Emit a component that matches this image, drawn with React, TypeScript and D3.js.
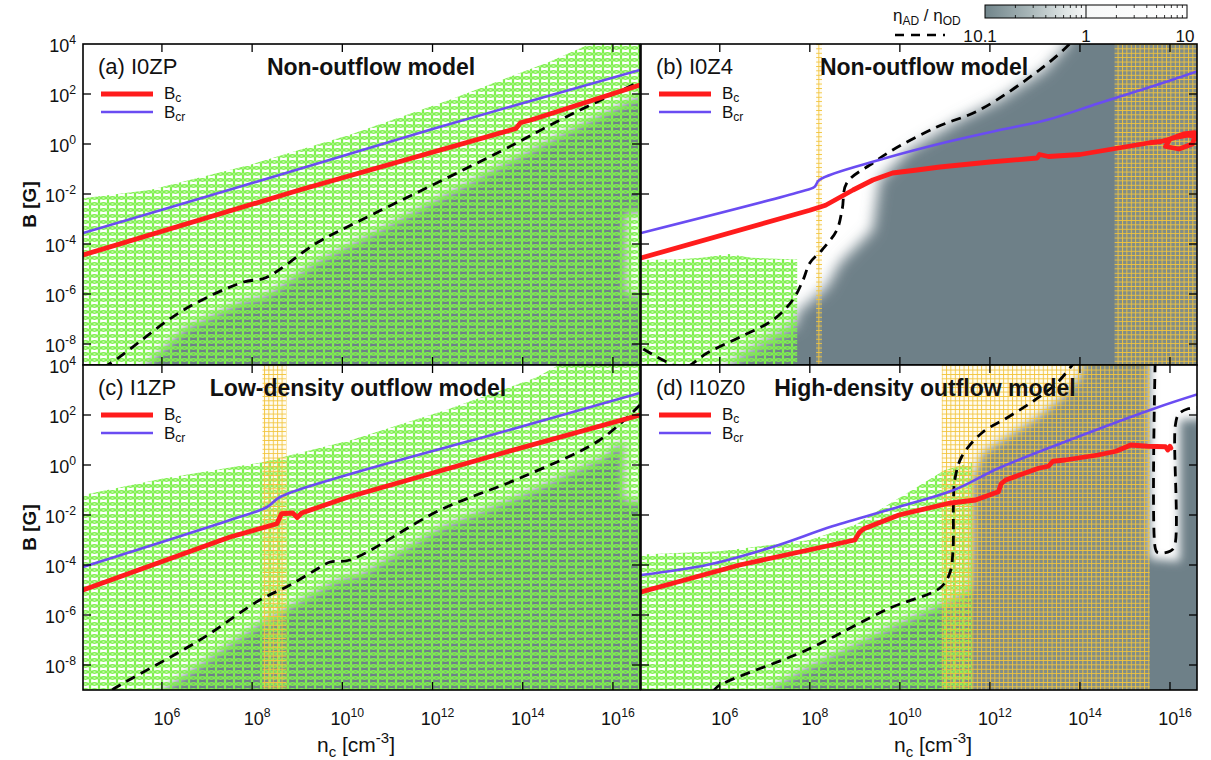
import React from "react";
import * as d3 from "d3";

type P = [number, number];

// ---- axes (log10 values) ----
const X_LOG_DOMAIN: P = [4.25, 16.6];
const Y_LOG_DOMAIN_TOP: P = [-8.84, 4];
const Y_LOG_DOMAIN_BOTTOM: P = [-9, 4];
const X_TICK_EXP = [6, 8, 10, 12, 14, 16];
const Y_TICK_EXP = [-8, -6, -4, -2, 0, 2, 4];
const CBAR_TICKS = [0.1, 1, 10];
const CBAR_MINOR = [0.2, 0.3, 0.4, 0.5, 0.6, 0.7, 0.8, 0.9, 2, 3, 4, 5, 6, 7, 8, 9];

// ---- (a) I0ZP ----
const aBcr: P[] = [[4.25, -3.56], [8, -1.56], [12, 0.6], [16.6, 2.96]];
const aBc: P[] = [[4.25, -4.44], [9.05, -1.84], [13.85, 0.62], [13.95, 0.85], [14.2, 0.97], [16.6, 2.36]];
const aDash: P[] = [[4.7, -8.95], [5.0, -8.6], [6.48, -6.64], [7.81, -5.52], [8.3, -5.35], [9.43, -3.96], [10.42, -3.04], [13.48, -0.32], [14.96, 1.08], [16.6, 2.5]];
const aGray: P[] = [[5.1, -9.8], [6.5, -7.4], [7.8, -6.3], [8.3, -6.1], [9.45, -4.7], [10.45, -3.8], [13.5, -0.9], [15.0, 0.5], [16.6, 1.9], [17.5, 1.9], [17.5, -10.5], [5.1, -10.5]];
const aLight: P[] = [[16.3, -2.8], [17.2, -2.8], [17.2, -6.0], [16.3, -6.0]];
const aGreen: P[] = [[4.0, -2.2], [4.3, -2.16], [5.73, -1.84], [7.94, -0.84], [10.15, 0.36], [12.37, 1.76], [14.58, 3.28], [15.69, 4.16], [15.7, 5], [17.5, 5], [17.5, -10.5], [4.0, -10.5]];

// ---- (b) I0Z4 ----
const bBcr: P[] = [[4.25, -3.56], [7.77, -1.92], [8.1, -1.72], [8.21, -1.44], [9.54, -0.64], [11.09, 0.1], [12.19, 0.55], [13.3, 0.98], [14.4, 1.62], [15.51, 2.25], [16.6, 2.9]];
const bBc: P[] = [[4.25, -4.56], [8.0, -2.65], [8.35, -2.45], [8.6, -2.2], [8.96, -1.84], [9.4, -1.44], [9.84, -1.16], [10.38, -1.04], [10.89, -0.92], [12.0, -0.72], [13.05, -0.56], [13.1, -0.42], [13.3, -0.5], [14.0, -0.42], [15.55, 0.05], [15.8, 0.1], [16.1, 0.25], [16.4, 0.35], [16.55, 0.3], [16.5, 0.0], [16.2, -0.2], [15.9, -0.1], [16.0, 0.2], [16.3, 0.4], [16.55, 0.45], [16.6, 0.2]];
const bDash: P[] = [[4.3, -8.2], [4.8, -8.7], [5.2, -8.95], [5.72, -8.36], [6.45, -7.72], [7.18, -7.04], [7.62, -6.24], [7.85, -5.44], [8.0, -4.76], [8.27, -4.24], [8.6, -3.44], [8.72, -2.6], [8.82, -1.56], [9.4, -0.76], [9.84, -0.24], [10.82, 0.68], [11.77, 1.36], [13.1, 2.96], [13.77, 4.0], [13.9, 4.3]];
const bGray: P[] = [[5.7, -9.8], [6.45, -8.5], [7.18, -7.7], [7.71, -7.2], [7.71, -6.76], [8.38, -5.72], [8.67, -4.76], [9.4, -3.44], [9.55, -1.44], [10.22, -0.24], [11.33, 0.96], [12.22, 1.76], [13.22, 2.96], [13.73, 4.0], [13.9, 5], [17.5, 5], [17.5, -10.5], [5.7, -10.5]];
const bGreen: P[] = [[4.0, -4.65], [5.0, -4.62], [5.6, -4.55], [6.2, -4.4], [6.7, -4.55], [7.72, -4.62], [7.72, -10.5], [4.0, -10.5]];
const bYellow: P[] = [[8.14, 8.27], [14.77, 17]];

// ---- (c) I1ZP ----
const cBcr: P[] = [[4.25, -4.08], [7.51, -2.2], [8.33, -1.68], [8.62, -1.28], [10.1, -0.4], [13.5, 1.3], [16.6, 2.88]];
const cBc: P[] = [[4.25, -5.0], [7.51, -2.88], [8.55, -2.35], [8.65, -1.95], [8.9, -1.92], [9.0, -2.1], [9.1, -1.92], [10.1, -1.3], [13.5, 0.45], [16.6, 2.0]];
const cDash: P[] = [[4.9, -9.0], [4.96, -8.92], [6.84, -7.0], [8.17, -5.4], [8.84, -4.8], [9.5, -4.1], [9.73, -3.88], [10.17, -3.8], [12.17, -1.8], [13.94, -0.52], [15.71, 1.0], [16.6, 2.4]];
const cGray: P[] = [[5.4, -9.8], [7.0, -7.8], [8.3, -6.2], [9.0, -5.5], [9.9, -4.6], [10.4, -4.4], [12.2, -2.5], [14.0, -1.2], [15.8, 0.3], [16.6, 1.6], [17.5, 1.6], [17.5, -10.5], [5.4, -10.5]];
const cLight: P[] = [[16.25, 1.6], [17.2, 1.6], [17.2, -1.4], [16.25, -1.4]];
const cGreen: P[] = [[4.0, -1.25], [4.25, -1.2], [6, -0.55], [8.2, 0.1], [10.2, 1.0], [12.3, 2.2], [14.3, 3.5], [14.8, 4.0], [14.9, 5], [17.5, 5], [17.5, -10.5], [4.0, -10.5]];
const cYellow: P[] = [[8.23, 8.76]];

// ---- (d) I10Z0 ----
const dBcr: P[] = [[4.25, -4.4], [5.71, -4.0], [7.17, -3.28], [8.5, -2.45], [9.98, -1.67], [11.2, -1.0], [12.19, -0.13], [13.67, 0.93], [15.67, 2.27], [16.6, 2.82]];
const dBc: P[] = [[4.25, -5.08], [6.44, -4.0], [9.0, -3.0], [9.1, -2.7], [9.2, -2.55], [9.98, -2.0], [11.09, -1.53], [11.68, -1.4], [12.19, -1.07], [12.25, -0.75], [12.35, -0.6], [13.08, -0.13], [13.3, -0.05], [13.4, 0.15], [13.67, 0.2], [14.4, 0.4], [14.8, 0.55], [15.13, 0.8], [15.5, 0.75], [15.9, 0.73], [15.95, 0.6], [16.0, 0.75], [16.02, 0.68]];
const dDash1: P[] = [[5.85, -9.1], [5.94, -8.88], [7.93, -7.4], [9.78, -5.72], [10.89, -4.92], [11.11, -4.32], [11.18, -3.4], [11.19, -1.5], [11.22, -0.6], [11.37, 0.32], [11.82, 1.28], [12.41, 1.92], [13.0, 2.6], [13.5, 3.3], [13.85, 4.05]];
const dDash2: P[] = [[15.67, 4.1], [15.67, -3.3], [15.72, -3.5], [16.0, -3.45], [16.1, -3.25], [16.12, 1.6], [16.2, 2.05], [16.4, 2.25], [16.6, 2.3]];
const dGray: P[] = [[6.3, -9.8], [7.95, -8.1], [9.8, -6.5], [10.9, -5.6], [11.55, -5.0], [11.6, -3.2], [11.6, -0.6], [11.85, 0.5], [12.45, 1.2], [13.05, 1.9], [13.6, 2.7], [14.0, 3.5], [14.2, 5], [15.55, 5], [15.55, -3.75], [16.22, -3.85], [16.22, 1.8], [17.5, 1.9], [17.5, -10.5], [6.3, -10.5]];
const dGreen: P[] = [[4.0, -3.6], [6, -3.45], [8, -3.0], [9, -2.4], [10, -1.3], [11, -0.2], [11.6, 0.1], [11.6, -10.5], [4.0, -10.5]];
const dYellow: P[] = [[10.93, 15.55]];

const COLS: P[] = [[83, 640], [641, 1197]];
const ROWS: P[] = [[365, 44], [690, 365]];

const GRAY = "#6e8088";
const RED = "#ff1c1c";
const BLUE = "#6a4cf2";
const GREEN = "#7ff04e";
const FONT = "'Liberation Sans', Arial, Helvetica, sans-serif";

const panels = [
  { id: "a", col: 0, row: 0, label: "(a) I0ZP", title: "Non-outflow model", titleX: 371, bcr: aBcr, bc: aBc, dashed: [aDash], gray: aGray, light: [aLight], green: aGreen, yellow: [] as P[], blur: 5 },
  { id: "b", col: 1, row: 0, label: "(b) I0Z4", title: "Non-outflow model", titleX: 924, bcr: bBcr, bc: bBc, dashed: [bDash], gray: bGray, light: [] as P[][], green: bGreen, yellow: bYellow, blur: 7 },
  { id: "c", col: 0, row: 1, label: "(c) I1ZP", title: "Low-density outflow model", titleX: 358, bcr: cBcr, bc: cBc, dashed: [cDash], gray: cGray, light: [cLight], green: cGreen, yellow: cYellow, blur: 5 },
  { id: "d", col: 1, row: 1, label: "(d) I10Z0", title: "High-density outflow model", titleX: 925, bcr: dBcr, bc: dBc, dashed: [dDash1, dDash2], gray: dGray, light: [] as P[][], green: dGreen, yellow: dYellow, blur: 5 },
];

function Sup({ base, exp, size = 18 }: { base: string; exp: string; size?: number }) {
  return (
    <>
      <tspan>{base}</tspan>
      <tspan dy={-8} fontSize={size * 0.68}>{exp}</tspan>
    </>
  );
}

function Panel({ p }: { p: (typeof panels)[number] }) {
  const [x0, x1] = COLS[p.col];
  const [yb, yt] = ROWS[p.row];
  const yDom = p.row === 0 ? Y_LOG_DOMAIN_TOP : Y_LOG_DOMAIN_BOTTOM;
  const x = d3.scaleLog().domain(X_LOG_DOMAIN.map((v) => 10 ** v)).range([x0, x1]);
  const y = d3.scaleLog().domain(yDom.map((v) => 10 ** v)).range([yb, yt]);
  const line = d3.line<P>().x((d) => x(10 ** d[0])).y((d) => y(10 ** d[1]));
  const closed = d3.line<P>().x((d) => x(10 ** d[0])).y((d) => y(10 ** d[1])).curve(d3.curveLinearClosed);
  const smooth = d3.line<P>().x((d) => x(10 ** d[0])).y((d) => y(10 ** d[1])).curve(d3.curveCatmullRom.alpha(0.5));
  const clip = `clip-${p.id}`;
  return (
    <g>
      <defs>
        <clipPath id={clip}>
          <rect x={x0} y={yt} width={x1 - x0} height={yb - yt} />
        </clipPath>
      </defs>
      <rect x={x0} y={yt} width={x1 - x0} height={yb - yt} fill="#fff" />
      <g clipPath={`url(#${clip})`}>
        <g filter={`url(#blur${p.blur})`}>
          <path d={closed(p.gray) || ""} fill={GRAY} />
          {p.light.map((l, i) => (
            <path key={i} d={closed(l) || ""} fill="#fff" />
          ))}
        </g>
        <path d={closed(p.green) || ""} fill="url(#circ)" />
        {p.yellow.map((b, i) => (
          <rect key={i} x={x(10 ** b[0])} y={yt} width={x(10 ** Math.min(b[1], X_LOG_DOMAIN[1] + 0.2)) - x(10 ** b[0])} height={yb - yt} fill="url(#grid)" />
        ))}
        {p.dashed.map((dd, i) => (
          <path key={i} d={smooth(dd) || ""} fill="none" stroke="#000" strokeWidth={2.8} strokeDasharray="10 6.5" />
        ))}
        <path d={smooth(p.bcr) || ""} fill="none" stroke={BLUE} strokeWidth={2.6} />
        <path d={line(p.bc) || ""} fill="none" stroke={RED} strokeWidth={4.8} strokeLinejoin="round" strokeLinecap="round" />
      </g>
      {/* labels */}
      <text x={x0 + 15} y={yt + 30} fontFamily={FONT} fontSize={22} fill="#111">{p.label}</text>
      <text x={p.titleX} y={yt + 31} textAnchor="middle" fontFamily={FONT} fontSize={23} fontWeight="bold" fill="#111">{p.title}</text>
      <line x1={x0 + 18} x2={x0 + 70} y1={yt + 50} y2={yt + 50} stroke={RED} strokeWidth={4.8} />
      <line x1={x0 + 18} x2={x0 + 70} y1={yt + 68} y2={yt + 68} stroke={BLUE} strokeWidth={2.6} />
      <text x={x0 + 81} y={yt + 55} fontFamily={FONT} fontSize={17} fill="#111">
        B<tspan dy={3} fontSize={12}>c</tspan>
      </text>
      <text x={x0 + 81} y={yt + 74} fontFamily={FONT} fontSize={17} fill="#111">
        B<tspan dy={3} fontSize={12}>cr</tspan>
      </text>
      {/* frame & ticks */}
      <rect x={x0} y={yt} width={x1 - x0} height={yb - yt} fill="none" stroke="#000" strokeWidth={1.6} />
      {X_TICK_EXP.map((e) => (
        <g key={e}>
          <line x1={x(10 ** e)} x2={x(10 ** e)} y1={yb} y2={yb - 8} stroke="#000" strokeWidth={1.3} />
          <line x1={x(10 ** e)} x2={x(10 ** e)} y1={yt} y2={yt + 8} stroke="#000" strokeWidth={1.3} />
        </g>
      ))}
      {Y_TICK_EXP.filter((e) => e < 4).map((e) => (
        <g key={e}>
          <line x1={x0} x2={x0 + 8} y1={y(10 ** e)} y2={y(10 ** e)} stroke="#000" strokeWidth={1.3} />
          <line x1={x1} x2={x1 - 8} y1={y(10 ** e)} y2={y(10 ** e)} stroke="#000" strokeWidth={1.3} />
        </g>
      ))}
      {p.col === 0 &&
        Y_TICK_EXP.map((e) => (
          <text key={e} x={x0 - 7} y={y(10 ** e) + 8} textAnchor="end" fontFamily={FONT} fontSize={18} fill="#111">
            <Sup base="10" exp={String(e)} />
          </text>
        ))}
      {p.col === 0 && (
        <text transform={`translate(36,${(yt + yb) / 2}) rotate(-90)`} textAnchor="middle" fontFamily={FONT} fontSize={19} fontWeight="bold" fill="#111">
          B [G]
        </text>
      )}
      {p.row === 1 &&
        X_TICK_EXP.map((e) => (
          <text key={e} x={x(10 ** e) + 5} y={yb + 35} textAnchor="middle" fontFamily={FONT} fontSize={18} fill="#111">
            <Sup base="10" exp={String(e)} />
          </text>
        ))}
      {p.row === 1 && (
        <text x={p.col === 0 ? 356 : 933} y={yb + 62} textAnchor="middle" fontFamily={FONT} fontSize={21} fill="#111">
          n<tspan dy={5} fontSize={15}>c</tspan>
          <tspan dy={-5}> [cm</tspan>
          <tspan dy={-9} fontSize={15}>-3</tspan>
          <tspan dy={9}>]</tspan>
        </text>
      )}
    </g>
  );
}

function Colorbar() {
  const c = d3.scaleLog().domain([0.1, 10]).range([985, 1187]);
  const y0 = 5, y1 = 18;
  return (
    <g>
      <defs>
        <linearGradient id="cbg" gradientUnits="userSpaceOnUse" x1={c(0.1)} x2={c(10)} y1={0} y2={0}>
          <stop offset="0" stopColor="#71858b" />
          <stop offset="0.22" stopColor="#a8b6b8" />
          <stop offset="0.4" stopColor="#dfe5e5" />
          <stop offset="0.5" stopColor="#f7f8f8" />
          <stop offset="1" stopColor="#ffffff" />
        </linearGradient>
      </defs>
      <rect x={c(0.1)} y={y0} width={c(10) - c(0.1)} height={y1 - y0} fill="url(#cbg)" stroke="#000" strokeWidth={1} />
      <line x1={c(1)} x2={c(1)} y1={y0} y2={y1} stroke="#000" strokeWidth={1} />
      {CBAR_MINOR.map((t) => (
        <g key={t}>
          <line x1={c(t)} x2={c(t)} y1={y0} y2={y0 + 3} stroke="#000" strokeWidth={0.8} />
          <line x1={c(t)} x2={c(t)} y1={y1} y2={y1 - 3} stroke="#000" strokeWidth={0.8} />
        </g>
      ))}
      {CBAR_TICKS.map((t) => (
        <text key={t} x={c(t) + (t === 10 ? -2 : 0)} y={42} textAnchor="middle" fontFamily={FONT} fontSize={17} fill="#111">
          {String(t)}
        </text>
      ))}
      <text x={893} y={21} fontFamily={FONT} fontSize={17} fill="#111">
        η<tspan dy={4} fontSize={12}>AD</tspan>
        <tspan dy={-4}> / η</tspan>
        <tspan dy={4} fontSize={12}>OD</tspan>
      </text>
      <line x1={895} x2={945} y1={35} y2={35} stroke="#000" strokeWidth={2.6} strokeDasharray="9 7" />
      <text x={968} y={42} textAnchor="middle" fontFamily={FONT} fontSize={17} fill="#111">1</text>
    </g>
  );
}

export default function App() {
  return (
    <svg width={1211} height={760} viewBox="0 0 1211 760" style={{ position: "absolute", left: 0, top: 0, background: "#fff" }}>
      <defs>
        <pattern id="circ" patternUnits="userSpaceOnUse" width={9} height={6}>
          <circle cx={4.5} cy={3} r={4.2} fill="none" stroke={GREEN} strokeWidth={1.45} />
          <circle cx={4.5} cy={-3} r={4.2} fill="none" stroke={GREEN} strokeWidth={1.45} />
          <circle cx={4.5} cy={9} r={4.2} fill="none" stroke={GREEN} strokeWidth={1.45} />
        </pattern>
        <pattern id="grid" patternUnits="userSpaceOnUse" width={4.4} height={4.4}>
          <rect width={4.4} height={4.4} fill="rgba(255,230,140,0.12)" />
          <path d="M0 0.5 H4.4 M0.5 0 V4.4" stroke="#f2c43c" strokeWidth={0.9} />
        </pattern>
        {[5, 7].map((s) => (
          <filter key={s} id={`blur${s}`} x="-20%" y="-20%" width="140%" height="140%">
            <feGaussianBlur stdDeviation={s} />
          </filter>
        ))}
      </defs>
      <rect width={1211} height={760} fill="#fff" />
      {panels.map((p) => (
        <Panel key={p.id} p={p} />
      ))}
      <Colorbar />
    </svg>
  );
}
